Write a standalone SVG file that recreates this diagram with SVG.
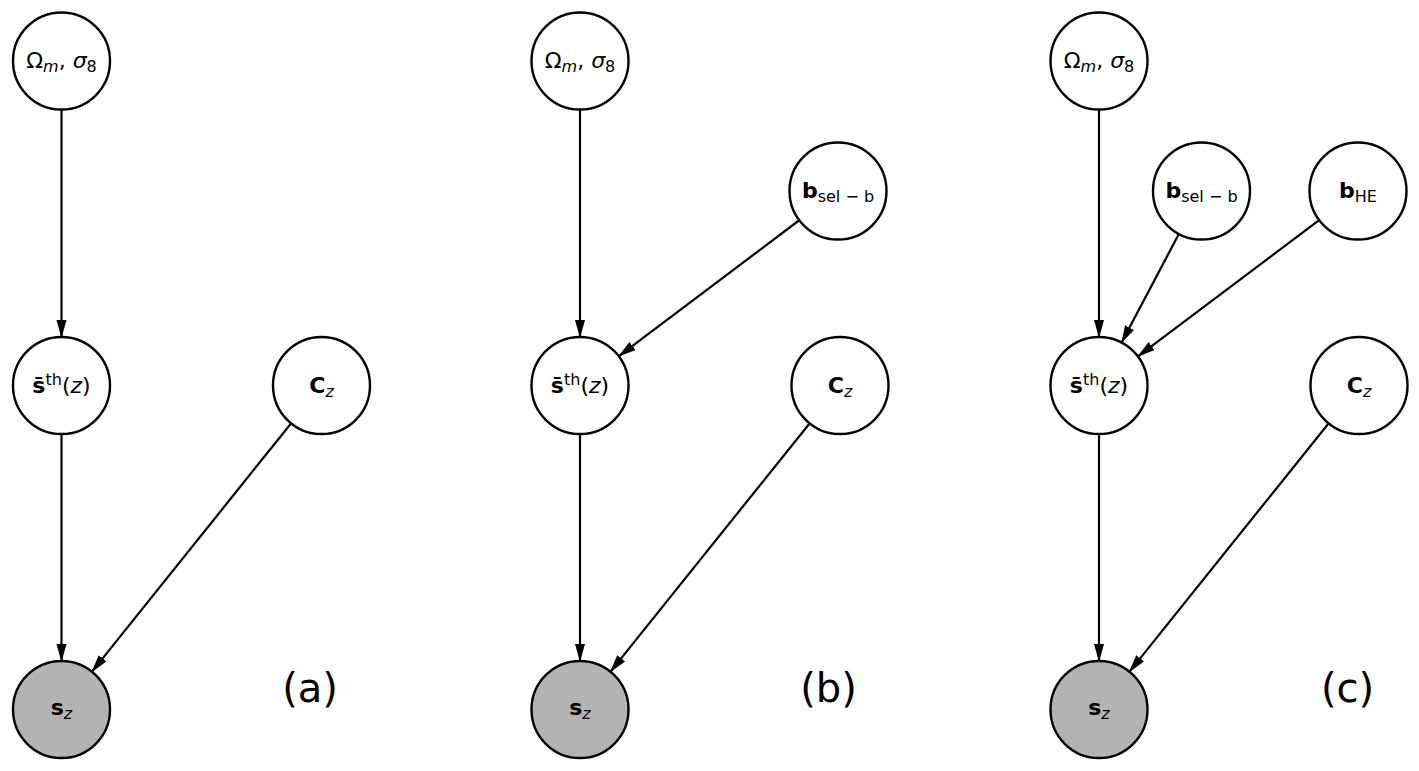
<svg xmlns="http://www.w3.org/2000/svg" width="1419" height="771" viewBox="0 0 1419 771">
<style>
.node circle{fill:#fff;stroke:#000;stroke-width:2.4}
.node.obs circle{fill:#b3b3b3}
.lbl{font-family:"DejaVu Sans",sans-serif;font-size:22px;text-anchor:middle;fill:#000}
.sub{font-size:16px}
.it{font-style:italic}
.bf{font-weight:bold}
.edge line{stroke:#000;stroke-width:2.2;marker-end:url(#ah)}
.tag{font-family:"DejaVu Sans",sans-serif;font-size:40px;text-anchor:middle;fill:#000}
</style>
<defs>
<marker id="ah" markerUnits="userSpaceOnUse" markerWidth="20" markerHeight="12" refX="17" refY="5" orient="auto">
<path d="M0,0 L18,5 L0,10 z" fill="#000"/>
</marker>
</defs>

<!-- Panel (a) -->
<g id="panel-a">
<g id="a-edges" class="edge">
<line x1="61.5" y1="110" x2="61.5" y2="337"/>
<line x1="61.5" y1="434.5" x2="61.5" y2="661"/>
<line x1="290.8" y1="423.7" x2="92" y2="671.6"/>
</g>
<g id="a-omega" class="node"><circle cx="61.5" cy="61" r="48.5"/>
<text class="lbl" x="61.5" y="68">Ω<tspan class="sub it" dy="4">m</tspan><tspan dy="-4">, </tspan><tspan class="it">σ</tspan><tspan class="sub" dy="4">8</tspan></text></g>
<g id="a-sth" class="node"><circle cx="61.5" cy="385.5" r="48.5"/>
<text class="lbl" x="61.5" y="393"><tspan class="bf">s&#x304;</tspan><tspan class="sub" dy="-8">th</tspan><tspan dy="8">(</tspan><tspan class="it">z</tspan>)</text></g>
<g id="a-cz" class="node"><circle cx="321.5" cy="385.5" r="48.5"/>
<text class="lbl" x="321.5" y="393"><tspan class="bf">C</tspan><tspan class="sub it" dy="4">z</tspan></text></g>
<g id="a-sz" class="node obs"><circle cx="61.5" cy="709.5" r="48.5"/>
<text class="lbl" x="61.5" y="715"><tspan class="bf">s</tspan><tspan class="sub it" dy="4">z</tspan></text></g>
<text id="a-tag" class="tag" x="310" y="702">(a)</text>
</g>

<!-- Panel (b) -->
<g id="panel-b" transform="translate(518.5,0)">
<g id="b-edges" class="edge">
<line x1="61.5" y1="110" x2="61.5" y2="337"/>
<line x1="280.4" y1="220.5" x2="100.4" y2="356.2"/>
<line x1="61.5" y1="434.5" x2="61.5" y2="661"/>
<line x1="290.8" y1="423.7" x2="92" y2="671.6"/>
</g>
<g id="b-omega" class="node"><circle cx="61.5" cy="61" r="48.5"/>
<text class="lbl" x="61.5" y="68">Ω<tspan class="sub it" dy="4">m</tspan><tspan dy="-4">, </tspan><tspan class="it">σ</tspan><tspan class="sub" dy="4">8</tspan></text></g>
<g id="b-bsel" class="node"><circle cx="319.5" cy="191" r="48.5"/>
<text class="lbl" x="319.5" y="198"><tspan class="bf">b</tspan><tspan class="sub" dy="4">sel − b</tspan></text></g>
<g id="b-sth" class="node"><circle cx="61.5" cy="385.5" r="48.5"/>
<text class="lbl" x="61.5" y="393"><tspan class="bf">s&#x304;</tspan><tspan class="sub" dy="-8">th</tspan><tspan dy="8">(</tspan><tspan class="it">z</tspan>)</text></g>
<g id="b-cz" class="node"><circle cx="321.5" cy="385.5" r="48.5"/>
<text class="lbl" x="321.5" y="393"><tspan class="bf">C</tspan><tspan class="sub it" dy="4">z</tspan></text></g>
<g id="b-sz" class="node obs"><circle cx="61.5" cy="709.5" r="48.5"/>
<text class="lbl" x="61.5" y="715"><tspan class="bf">s</tspan><tspan class="sub it" dy="4">z</tspan></text></g>
<text id="b-tag" class="tag" x="310" y="702">(b)</text>
</g>

<!-- Panel (c) -->
<g id="panel-c" transform="translate(1037.5,0)">
<g id="c-edges" class="edge">
<line x1="61.5" y1="110" x2="61.5" y2="337"/>
<line x1="141.2" y1="234.3" x2="84.1" y2="342.6"/>
<line x1="281.3" y1="220.4" x2="100.5" y2="356.3"/>
<line x1="61.5" y1="434.5" x2="61.5" y2="661"/>
<line x1="290.8" y1="423.7" x2="92" y2="671.6"/>
</g>
<g id="c-omega" class="node"><circle cx="61.5" cy="61" r="48.5"/>
<text class="lbl" x="61.5" y="68">Ω<tspan class="sub it" dy="4">m</tspan><tspan dy="-4">, </tspan><tspan class="it">σ</tspan><tspan class="sub" dy="4">8</tspan></text></g>
<g id="c-bsel" class="node"><circle cx="164" cy="191" r="48.5"/>
<text class="lbl" x="164" y="198"><tspan class="bf">b</tspan><tspan class="sub" dy="4">sel − b</tspan></text></g>
<g id="c-bhe" class="node"><circle cx="320.5" cy="191" r="48.5"/>
<text class="lbl" x="320.5" y="198"><tspan class="bf">b</tspan><tspan class="sub" dy="4">HE</tspan></text></g>
<g id="c-sth" class="node"><circle cx="61.5" cy="385.5" r="48.5"/>
<text class="lbl" x="61.5" y="393"><tspan class="bf">s&#x304;</tspan><tspan class="sub" dy="-8">th</tspan><tspan dy="8">(</tspan><tspan class="it">z</tspan>)</text></g>
<g id="c-cz" class="node"><circle cx="321.5" cy="385.5" r="48.5"/>
<text class="lbl" x="321.5" y="393"><tspan class="bf">C</tspan><tspan class="sub it" dy="4">z</tspan></text></g>
<g id="c-sz" class="node obs"><circle cx="61.5" cy="709.5" r="48.5"/>
<text class="lbl" x="61.5" y="715"><tspan class="bf">s</tspan><tspan class="sub it" dy="4">z</tspan></text></g>
<text id="c-tag" class="tag" x="310" y="702">(c)</text>
</g>
</svg>
